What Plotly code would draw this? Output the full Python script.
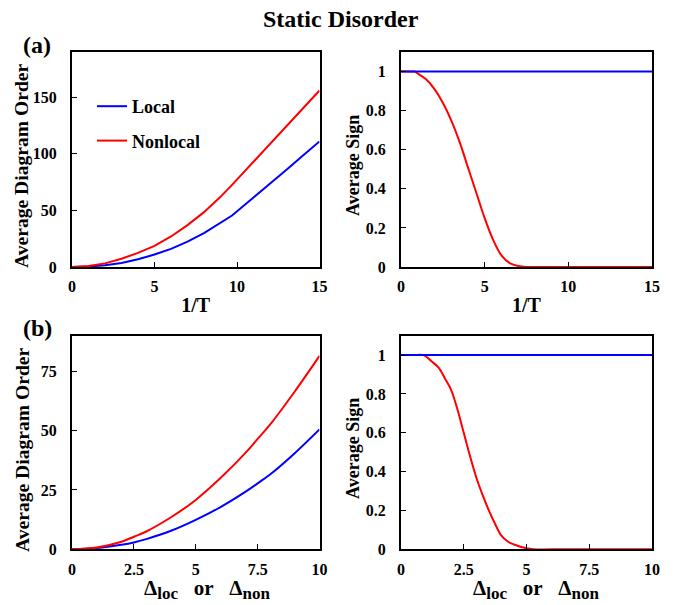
import plotly.graph_objects as go

# ---- data ----
invT = [0, 1, 2, 3, 4, 5, 6, 7, 8, 9, 9.7, 11, 12, 13, 14, 15]
order_local_T = [0, 0.4, 1.5, 3.5, 6.8, 11, 16, 22.5, 30, 39, 45.5, 61.5, 73.5, 86, 98.5, 111]
order_nonlocal_T = [0, 0.8, 3.2, 7.3, 12.5, 18.6, 27, 37, 48.5, 62, 72.6, 93, 109, 124.5, 140.5, 156]

invT_sign = [0, 0.5, 0.8, 1, 1.5, 2, 2.5, 3, 3.5, 4, 4.5, 5, 5.5, 6, 6.5, 7, 7.5, 8, 10, 12, 15]
sign_local_T = [1] * len(invT_sign)
sign_nonlocal_T = [1, 1, 1, 0.99, 0.96, 0.91, 0.84, 0.75, 0.64, 0.51, 0.38, 0.25, 0.14, 0.06, 0.02, 0.005, 0, 0, 0, 0, 0]

delta = [0, 1, 2, 2.5, 3, 4, 5, 6, 7, 7.5, 8, 9, 10]
order_local_D = [0, 0.5, 1.9, 2.9, 4.3, 7.8, 12.4, 17.8, 24.2, 27.8, 31.5, 40.5, 50.5]
order_nonlocal_D = [0, 0.8, 3.2, 5.3, 7.5, 13.5, 20.8, 30, 40.5, 46.5, 52.5, 66.5, 81.5]

delta_sign = [0, 0.5, 0.9, 1.2, 1.5, 1.75, 2, 2.25, 2.5, 2.75, 3, 3.25, 3.5, 3.75, 4, 4.25, 4.5, 5, 5.25, 6, 8, 10]
sign_local_D = [1] * len(delta_sign)
sign_nonlocal_D = [1, 1, 1, 0.97, 0.935, 0.88, 0.82, 0.72, 0.6, 0.48, 0.37, 0.28, 0.2, 0.13, 0.07, 0.04, 0.025, 0.005, 0, 0, 0, 0]

BLUE = "#0000FF"
RED = "#FF0000"
FONT = "Liberation Serif, Times New Roman, serif"

fig = go.Figure()

def add(x, y, color, xa, ya, name=None, show=False, shape="linear", group=None):
    fig.add_trace(go.Scatter(x=x, y=y, mode="lines", line=dict(color=color, width=2, shape=shape),
                             xaxis=xa, yaxis=ya, name=name, showlegend=show, legendgroup=group))

add(invT, order_local_T, BLUE, "x", "y", "Local", True, group="g1")
add(invT, order_nonlocal_T, RED, "x", "y", "Nonlocal", True, group="g2")
add(invT_sign, sign_nonlocal_T, RED, "x2", "y2", shape="spline")
add(invT_sign, sign_local_T, BLUE, "x2", "y2")
add(delta, order_local_D, BLUE, "x3", "y3", shape="spline")
add(delta, order_nonlocal_D, RED, "x3", "y3", shape="spline")
add(delta_sign, sign_nonlocal_D, RED, "x4", "y4", shape="spline")
add(delta_sign, sign_local_D, BLUE, "x4", "y4")

W, H = 676, 605
def dx(a, b):
    return [a / W, b / W]
def dy(top, bot):
    return [1 - bot / H, 1 - top / H]

tickfont = dict(family=FONT, size=16, color="black", weight="bold")

def axis(domain, rng, tickvals, ticktext, anchor, lab_off, title=None, standoff=0, tsize=20):
    d = dict(domain=domain, range=rng, tickvals=tickvals, ticktext=ticktext, anchor=anchor,
             showline=True, linecolor="black", linewidth=2, mirror=True,
             ticks="inside", ticklen=5, tickwidth=1, tickcolor="black",
             showgrid=False, zeroline=False, tickfont=tickfont, automargin=False,
             ticklabelstandoff=lab_off)
    if title:
        d["title"] = dict(text=title, standoff=standoff,
                          font=dict(family=FONT, size=tsize, color="black", weight="bold"))
    return d

SP = "\u00a0"
DELTA_TITLE = ("Δ<sub><span style='font-size:17px'>loc</span></sub>" + SP * 3 + "or" + SP * 3 +
               "Δ<sub><span style='font-size:17px'>non</span></sub>")

L = dx(72, 319.5)
R = dx(401, 652)
T = dy(52, 267)
B = dy(335.7, 549.3)

fig.update_layout(
    width=W, height=H,
    margin=dict(l=0, r=0, t=0, b=0),
    paper_bgcolor="white", plot_bgcolor="white",
    font=dict(family=FONT, color="black"),
    xaxis=axis(L, [0, 15], [0, 5, 10, 15], ["0", "5", "10", "15"], "y", 4, "1/T", 4, 20),
    yaxis=axis(T, [0, 190], [0, 50, 100, 150], ["0", "50", "100", "150"], "x", 10),
    xaxis2=axis(R, [0, 15], [0, 5, 10, 15], ["0", "5", "10", "15"], "y2", 4, "1/T", 4, 20),
    yaxis2=axis(T, [0, 1.1], [0, 0.2, 0.4, 0.6, 0.8, 1], ["0", "0.2", "0.4", "0.6", "0.8", "1"], "x2", 10),
    xaxis3=axis(L, [0, 10], [0, 2.5, 5, 7.5, 10], ["0", "2.5", "5", "7.5", "10"], "y3", 4),
    yaxis3=axis(B, [0, 90], [0, 25, 50, 75], ["0", "25", "50", "75"], "x3", 10),
    xaxis4=axis(R, [0, 10], [0, 2.5, 5, 7.5, 10], ["0", "2.5", "5", "7.5", "10"], "y4", 4),
    yaxis4=axis(B, [0, 1.1], [0, 0.2, 0.4, 0.6, 0.8, 1], ["0", "0.2", "0.4", "0.6", "0.8", "1"], "x4", 10),
    legend=dict(x=(92 - 72) / (319.5 - 72) * (L[1] - L[0]) + L[0], y=1 - 88 / H, xanchor="left", yanchor="top",
                bgcolor="rgba(0,0,0,0)", font=dict(family=FONT, size=18, color="black", weight="bold"),
                traceorder="grouped", tracegroupgap=8, itemwidth=30),
    showlegend=True,
)

def note(text, xpx, ypx, size, angle=0, xanchor="center"):
    fig.add_annotation(text="<b>" + text + "</b>", x=xpx / W, y=1 - ypx / H, xref="paper", yref="paper",
                       xanchor=xanchor, yanchor="middle", showarrow=False, textangle=angle,
                       font=dict(family=FONT, size=size, color="black"))

note("Static Disorder", 341, 19, 24)
note("(a)", 21, 45, 24, xanchor="left")
note("(b)", 21, 328, 24, xanchor="left")
note("Average Diagram Order", 22, 166, 19.6, angle=-90)
note("Average Diagram Order", 22, 450, 19.6, angle=-90)
note("Average Sign", 353, 165, 18, angle=-90)
note("Average Sign", 353, 448, 18, angle=-90)
note(DELTA_TITLE, 207, 589, 21)
note(DELTA_TITLE, 536, 589, 21)

fig.write_html("out.html", config={"displayModeBar": False},
               post_script="document.body.style.margin='0';")
